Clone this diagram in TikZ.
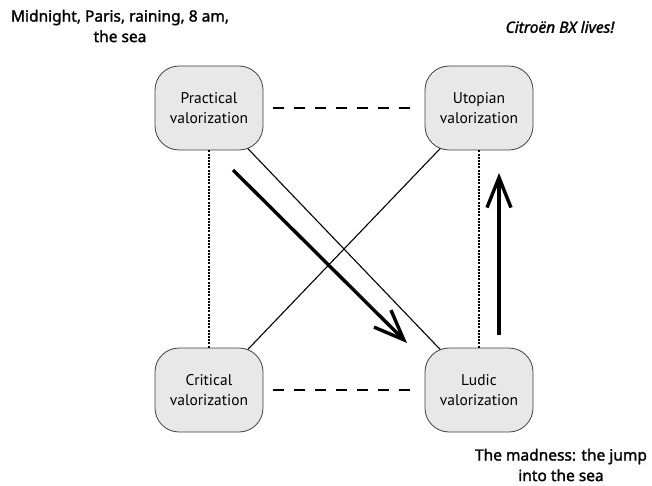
\documentclass[tikz,border=0pt]{standalone}
\usepackage{fontspec}
\usetikzlibrary{arrows.meta,backgrounds}
\newfontfamily\nodefont{PT Sans}
\newfontfamily\capfont[FakeBold=1.6]{Noto Sans}
\newfontfamily\capitfont[FakeBold=1.6]{Noto Sans Italic}
\tikzset{
  valbox/.style={draw=black!75, fill=black!9, line width=0.8pt, rounded corners=24pt,
    minimum width=108pt, minimum height=84pt, align=center,
    font=\nodefont\fontsize{15.5}{19.5}\selectfont, text=black},
  caption/.style={align=center, font=\capfont\fontsize{15.5}{20.5}\selectfont},
  oppose/.style={line width=1.2pt, dash pattern=on 11pt off 10pt},
  complement/.style={line width=1.3pt, dash pattern=on 2pt off 1.2pt},
  contra/.style={line width=1.1pt},
  move/.style={line width=3.4pt, -{Straight Barb[length=30pt, width=24pt, line width=3.4pt]}}
}
\begin{document}
\begin{tikzpicture}[x=1pt, y=-1pt]
  \useasboundingbox (0,0) rectangle (652,486);
  % the four valorizations
  \node[valbox] (prac) at (209,108) {Practical\\valorization};
  \node[valbox] (utop) at (479,108) {Utopian\\valorization};
  \node[valbox] (crit) at (209,390) {Critical\\valorization};
  \node[valbox] (ludi) at (479,390) {Ludic\\valorization};
  % relations of the square
  \begin{pgfonlayer}{background}
    \draw[contra] (prac.center) -- (ludi.center);
    \draw[contra] (crit.center) -- (utop.center);
  \end{pgfonlayer}
  \draw[oppose] (prac.east) ++(10,0) coordinate (po) -- (utop.west -| 417,0);
  \draw[oppose] (crit.east) ++(10,0) coordinate (co) -- (ludi.west -| 417,0);
  \draw[complement] (prac.south) -- (crit.north);
  \draw[complement] (utop.south) -- (ludi.north);
  % movements
  \coordinate (m1s) at (233,170);
  \coordinate (m1e) at (407,343);
  \coordinate (m2s) at (499,335);
  \coordinate (m2e) at (499,173);
  \draw[move] (m1s) -- (m1e);
  \draw[move] (m2s) -- (m2e);
  % captions
  \node[caption] (cap1) at (120,26) {Midnight, Paris, raining, 8 am,\\the sea};
  \node[caption, font=\capitfont\fontsize{15.5}{20.5}\selectfont] (cap2) at (560,27) {Citroën BX lives!};
  \node[caption] (cap3) at (561,465) {The madness: the jump\\into the sea};
\end{tikzpicture}
\end{document}
